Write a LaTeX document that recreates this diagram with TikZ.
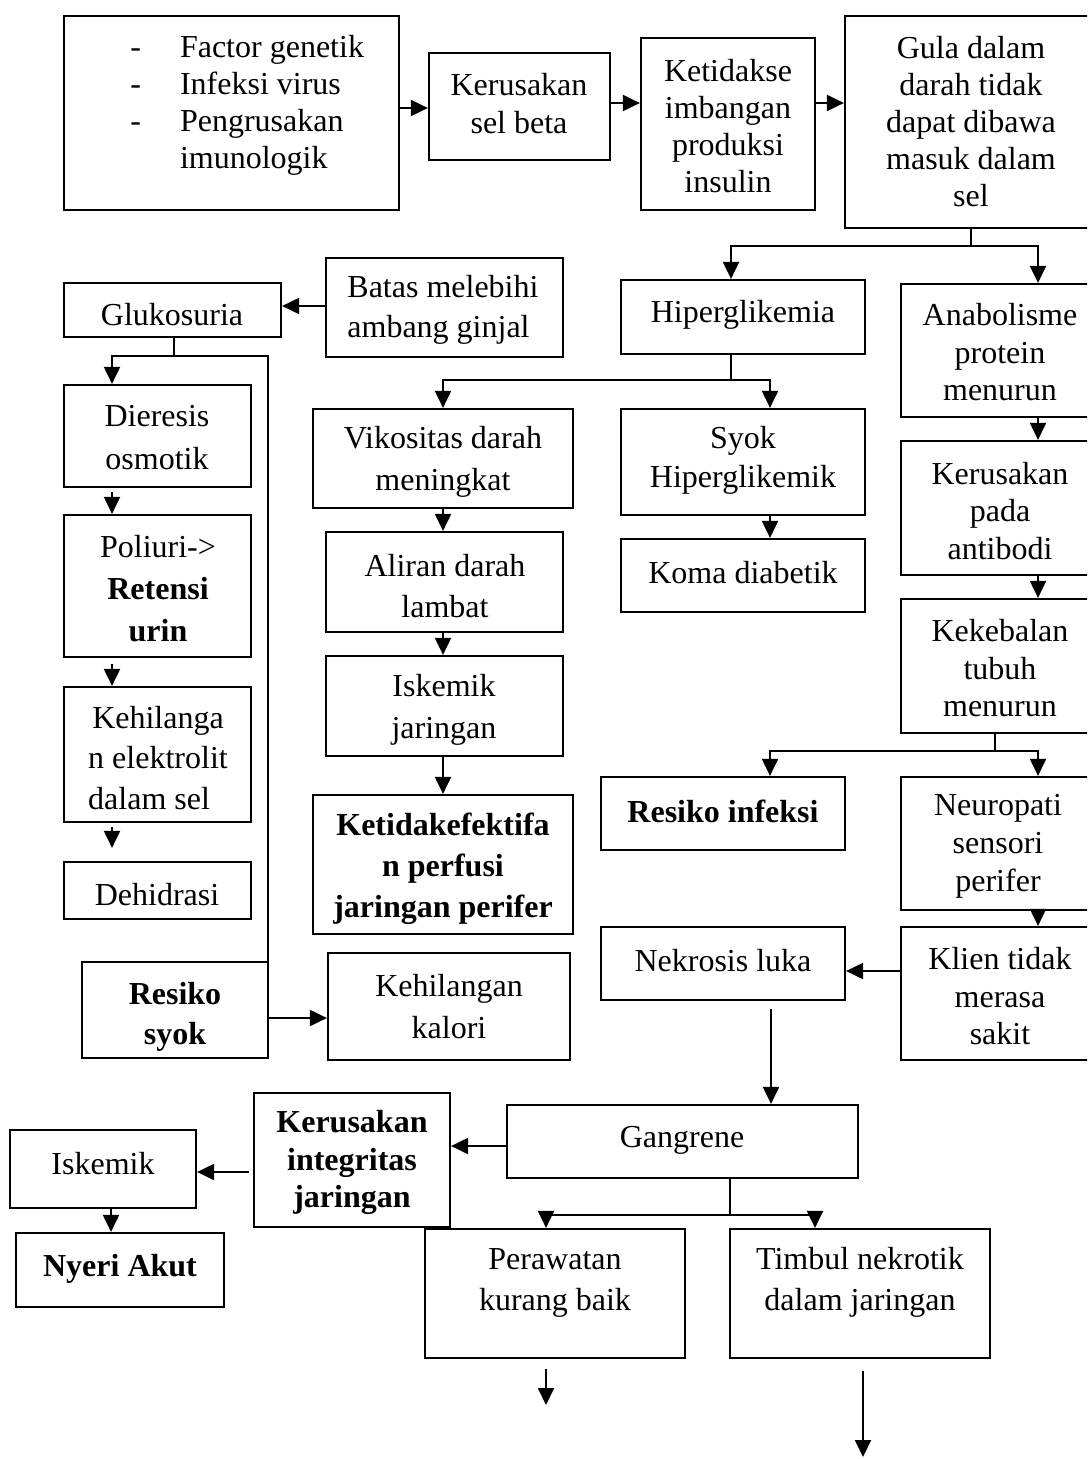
\documentclass[tikz,border=0pt]{standalone}
\usepackage{fontspec}
\setmainfont{Liberation Serif}
\usetikzlibrary{arrows.meta,fit}
\begin{document}
\begin{tikzpicture}[x=0.5pt,y=-0.5pt,
  box/.style={draw, line width=1.1pt, inner sep=0pt},
  txt/.style={align=center, inner sep=0pt, yshift=-1.5pt, font=\fontsize{16}{18.5}\selectfont},
  arr/.style={line width=1pt, -{Triangle[length=8.5pt,width=8pt]}},
  ln/.style={line width=1pt}]
\useasboundingbox (0,0) rectangle (1087,1459);
\fill[white] (0,0) rectangle (1087,1459);
\clip (0,0) rectangle (1087,1459);
% boxes
\node[box, fit={(64,16) (399,210)}] (factor) {};
\node[box, fit={(429,53) (610,160)}] (selbeta) {};
\node[box, fit={(641,38) (815,210)}] (ketid) {};
\node[box, fit={(845,16) (1097,228)}] (gula) {};
\node[box, fit={(621,280) (865,354)}] (hiper) {};
\node[box, fit={(901,284) (1099,417)}] (anab) {};
\node[box, fit={(326,258) (563,357)}] (batas) {};
\node[box, fit={(64,283) (281,337)}] (gluk) {};
\node[box, fit={(64,385) (251,487)}] (dier) {};
\node[box, fit={(64,515) (251,657)}] (poli) {};
\node[box, fit={(64,687) (251,822)}] (kehil) {};
\node[box, fit={(64,862) (251,919)}] (dehid) {};
\node[box, fit={(82,962) (268,1058)}] (resyok) {};
\node[box, fit={(328,953) (570,1060)}] (kalori) {};
\node[box, fit={(313,409) (573,508)}] (vik) {};
\node[box, fit={(326,532) (563,632)}] (ali) {};
\node[box, fit={(326,656) (563,756)}] (iskj) {};
\node[box, fit={(313,795) (573,934)}] (ketef) {};
\node[box, fit={(621,409) (865,515)}] (syok) {};
\node[box, fit={(621,539) (865,612)}] (koma) {};
\node[box, fit={(901,441) (1099,575)}] (kerab) {};
\node[box, fit={(901,599) (1099,733)}] (kek) {};
\node[box, fit={(601,777) (845,850)}] (resinf) {};
\node[box, fit={(901,777) (1099,910)}] (neuro) {};
\node[box, fit={(901,927) (1099,1060)}] (klien) {};
\node[box, fit={(601,927) (845,1000)}] (nekr) {};
\node[box, fit={(507,1105) (858,1178)}] (gang) {};
\node[box, fit={(254,1093) (450,1227)}] (kerint) {};
\node[box, fit={(10,1130) (196,1208)}] (isk2) {};
\node[box, fit={(16,1233) (224,1307)}] (nyeri) {};
\node[box, fit={(425,1229) (685,1358)}] (per) {};
\node[box, fit={(730,1229) (990,1358)}] (tim) {};
% texts
\node[txt, anchor=west] (tfac) at (130,102.5) {\begin{tabular}{@{}l@{\hspace{19.5pt}}l@{}}-&Factor genetik\\-&Infeksi virus\\-&Pengrusakan\\&imunologik\end{tabular}};
\node[txt, font=\fontsize{16}{19}\selectfont] (tselbeta) at (519,101) {Kerusakan\\sel beta};
\node[txt] (tketid) at (728,123) {Ketidakse\\imbangan\\produksi\\insulin};
\node[txt] (tgula) at (971,119) {Gula dalam\\darah tidak\\dapat dibawa\\masuk dalam\\sel};
\node[txt] (thiper) at (743,312) {Hiperglikemia};
\node[txt, font=\fontsize{16}{18.75}\selectfont] (tanab) at (1000,349.5) {Anabolisme\\protein\\menurun};
\node[txt, align=left, anchor=west, font=\fontsize{16}{20}\selectfont] (tbatas) at (347,307) {Batas melebihi\\ambang ginjal};
\node[txt] (tgluk) at (172,312) {Glukosuria};
\node[txt, font=\fontsize{16}{21.5}\selectfont] (tdier) at (157,434.5) {Dieresis\\osmotik};
\node[txt, font=\fontsize{16}{21}\selectfont] (tpoli) at (158,586) {Poliuri->\\\textbf{Retensi}\\\textbf{urin}};
\node[txt, font=\fontsize{16}{20.25}\selectfont] (tkehil) at (158,757.5) {\begin{tabular}{@{}l@{}}\multicolumn{1}{@{}c@{}}{Kehilanga}\\n elektrolit\\dalam sel\end{tabular}};
\node[txt] (tdehid) at (157,892) {Dehidrasi};
\node[txt, font=\fontsize{16}{20}\selectfont\bfseries] (tresyok) at (175,1014) {Resiko\\syok};
\node[txt, font=\fontsize{16}{21}\selectfont] (tkalori) at (449,1004) {Kehilangan\\kalori};
\node[txt, font=\fontsize{16}{21}\selectfont] (tvik) at (443,459) {Vikositas darah\\meningkat};
\node[txt, font=\fontsize{16}{20.5}\selectfont] (tali) at (445,583.5) {Aliran darah\\lambat};
\node[txt, font=\fontsize{16}{21}\selectfont] (tiskj) at (444,707) {Iskemik\\jaringan};
\node[txt, font=\fontsize{16}{20.5}\selectfont\bfseries] (tketef) at (443,866) {Ketidakefektifa\\n perfusi\\jaringan perifer};
\node[txt, font=\fontsize{16}{19.5}\selectfont] (tsyok) at (743,457.5) {Syok\\Hiperglikemik};
\node[txt] (tkoma) at (743,570) {Koma diabetik};
\node[txt, font=\fontsize{16}{18.75}\selectfont] (tkerab) at (1000,508) {Kerusakan\\pada\\antibodi};
\node[txt, font=\fontsize{16}{18.75}\selectfont] (tkek) at (1000,665.5) {Kekebalan\\tubuh\\menurun};
\node[txt, font=\fontsize{16}{18.5}\selectfont\bfseries] (tresinf) at (723,808) {Resiko infeksi};
\node[txt, font=\fontsize{16}{19}\selectfont] (tneuro) at (998,843) {Neuropati\\sensori\\perifer};
\node[txt, font=\fontsize{16}{18.75}\selectfont] (tklien) at (1000,993.5) {Klien tidak\\merasa\\sakit};
\node[txt] (tnekr) at (723,958) {Nekrosis luka};
\node[txt] (tgang) at (682,1137) {Gangrene};
\node[txt, font=\fontsize{16}{18.75}\selectfont\bfseries] (tkerint) at (352,1159.5) {Kerusakan\\integritas\\jaringan};
\node[txt] (tisk2) at (103,1161) {Iskemik};
\node[txt, font=\fontsize{16}{18.5}\selectfont\bfseries] (tnyeri) at (120,1266) {Nyeri Akut};
\node[txt, font=\fontsize{16}{20.5}\selectfont] (tper) at (555,1279.5) {Perawatan\\kurang baik};
\node[txt, font=\fontsize{16}{20.5}\selectfont] (ttim) at (860,1279.5) {Timbul nekrotik\\dalam jaringan};
% junctions and free ends
\coordinate (j1) at (971,246);
\coordinate (j2) at (174,356);
\coordinate (j3) at (731,380);
\coordinate (j4) at (995,751);
\coordinate (j5) at (730,1215);
\coordinate (e1) at (546,1405);
\coordinate (e2) at (863,1457);
% connectors
\draw[arr] (factor.east |- 0,108) -- (selbeta.west |- 0,108);
\draw[arr] (selbeta.east |- 0,103) -- (ketid.west |- 0,103);
\draw[arr] (ketid.east |- 0,103) -- (gula.west |- 0,103);
\draw[ln] (gula.south) -- (j1);
\draw[arr] (j1) -| (hiper.north -| 731,0);
\draw[arr] (j1) -| (anab.north -| 1038,0);
\draw[arr] (batas.west |- 0,306) -- (gluk.east |- 0,306);
\draw[ln] (gluk.south -| 174,0) -- (j2);
\draw[arr] (j2) -| (dier.north -| 112,0);
\draw[arr] (j2) -| (268,1018) -- (kalori.west |- 0,1018);
\draw[arr, shorten <=2pt] (dier.south -| 112,0) -- (poli.north -| 112,0);
\draw[arr, shorten <=3pt] (poli.south -| 112,0) -- (kehil.north -| 112,0);
\draw[arr, shorten <=2pt, shorten >=6.5pt] (kehil.south -| 112,0) -- (dehid.north -| 112,0);
\draw[ln] (hiper.south -| 731,0) -- (j3);
\draw[arr] (j3) -| (vik.north -| 443,0);
\draw[arr] (j3) -| (syok.north -| 770,0);
\draw[arr] (vik.south -| 443,0) -- (ali.north -| 443,0);
\draw[arr] (ali.south -| 443,0) -- (iskj.north -| 443,0);
\draw[arr] (iskj.south -| 443,0) -- (ketef.north -| 443,0);
\draw[arr] (syok.south -| 770,0) -- (koma.north -| 770,0);
\draw[arr] (anab.south -| 1038,0) -- (kerab.north -| 1038,0);
\draw[arr] (kerab.south -| 1038,0) -- (kek.north -| 1038,0);
\draw[ln] (kek.south -| 995,0) -- (j4);
\draw[arr] (j4) -| (resinf.north -| 770,0);
\draw[arr] (j4) -| (neuro.north -| 1038,0);
\draw[arr] (neuro.south -| 1038,0) -- (klien.north -| 1038,0);
\draw[arr] (klien.west |- 0,971) -- (nekr.east |- 0,971);
\draw[arr, shorten <=4pt] (nekr.south -| 771,0) -- (gang.north -| 771,0);
\draw[arr] (gang.west |- 0,1146) -- (kerint.east |- 0,1146);
\draw[arr, shorten <=2pt] (kerint.west |- 0,1172) -- (isk2.east |- 0,1172);
\draw[arr] (isk2.south -| 111,0) -- (nyeri.north -| 111,0);
\draw[ln] (gang.south -| 730,0) -- (j5);
\draw[arr] (j5) -| (per.north -| 546,0);
\draw[arr] (j5) -| (tim.north -| 815,0);
\draw[arr, shorten <=5pt] (per.south -| 546,0) -- (e1);
\draw[arr, shorten <=6pt] (tim.south -| 863,0) -- (e2);
\end{tikzpicture}
\end{document}
